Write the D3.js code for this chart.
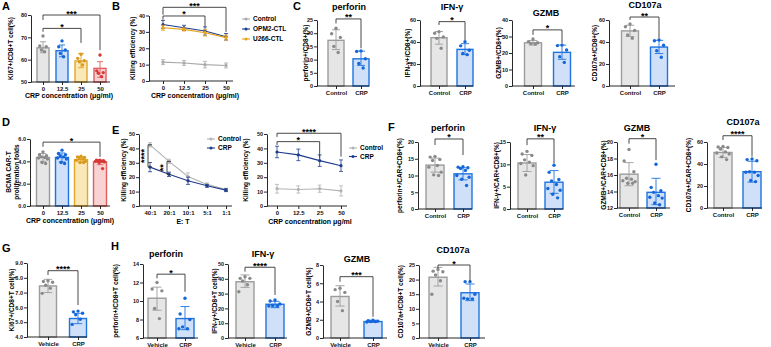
<!DOCTYPE html>
<html><head><meta charset="utf-8">
<script src="https://cdn.jsdelivr.net/npm/d3@7"></script>
<style>
body{margin:0;background:#fff}
svg{display:block;font-family:"Liberation Sans",Arial,sans-serif;font-weight:bold}
</style></head><body>
<svg id="fig" width="771" height="347"></svg>
<script>
// ---- data ----
const doseCats=["0","12.5","25","50"];
const ctlCats=["Control","CRP"];
const vehCats=["Vehicle","CRP"];

// A
const aMean=[65.3,64,59.4,56.1];
const aErr=[[63.1,68],[61.3,66.6],[56.4,62.8],[52.1,59.1]];
const aPts=[[70.6,66.1,65.8,64.3,63.6],[68.4,65.8,64.3,62.8,61.3],[62.4,60.6,59.5,59.1,57.6],[62.1,55,54.2,53.9,52.4]];
const aTicks=[50,60,70,80];
// B
const bCtrl=[11.5,11,10,9.5], bCtrlSD=[1.5,1.5,2,1.5];
const bOPM2=[34.5,32.5,30.5,27], bOPM2SD=[2.5,1.5,2.5,2];
const bU266=[32.5,31.5,29.5,26.5], bU266SD=[1.5,1,2,1.5];
const bNames=["Control","OPM2-CTL","U266-CTL"];
const bTicks=[0,10,20,30,40];
// C
const cPerfMean=[17.3,10.3], cPerfErr=[[13.8,21.3],[7.8,13.2]], cPerfPts=[[21.9,19.8,18.4,15,12.7],[13.3,13.1,10.3,8.5,6.8]];
const cIfnMean=[43.9,33.3], cIfnErr=[[38,49.5],[28.5,38.5]], cIfnPts=[[49.4,47.9,44.5,43.3,34.3],[40.3,36.5,32.5,29.5,28.5]];
const cGzmbMean=[26.2,20.4], cGzmbErr=[[24.8,27.6],[16.2,24.8]], cGzmbPts=[[28.5,26.9,26.2,25.8,25.5],[24.8,24.5,21.8,17.8,14.3]];
const cCdMean=[50.1,35.4], cCdErr=[[45,55.2],[29.5,41.5]], cCdPts=[[56.4,53.9,50.5,46.4,43.4],[41.8,41.2,37,32.1,26.1]];
// D
const dMean=[4.35,4.35,4.15,3.95];
const dErr=[[4.0,4.7],[3.95,4.75],[3.9,4.4],[3.7,4.1]];
const dPts=[[4.85,4.6,4.5,4.4,4.35,4.3,4.2,3.9,3.8],[5.0,4.7,4.6,4.5,4.4,4.3,4.2,3.9,3.8],[4.45,4.4,4.35,4.3,4.2,4.1,4.0,3.9,3.9],[4.1,4.1,4.05,4.05,4.0,4.0,3.95,3.9,3.35]];
// E
const eRatios=["40:1","20:1","10:1","5:1","1:1"];
const eCtrl=[42.5,31,20.5,15,11.5], eCtrlSD=[1.5,1.5,2.5,1,0.8];
const eCrp=[27,22,17.5,14,11], eCrpSD=[3.2,1.5,2.5,1,1];
const eCtrl2=[12,11.5,12,10.5], eCtrl2SD=[3,2.5,2.5,3.5];
const eCrp2=[37.5,35.5,31.5,28], eCrp2SD=[4,4,4,4];
// F
const fPerfMean=[13.1,10.5], fPerfErr=[[11,15.2],[8.7,12.3]], fPerfPts=[[15.7,15.5,14.8,14.5,13.0,12.5,11.0,10.2,10.0],[12.6,12.5,12.3,12.1,11.5,10.0,9.5,8.9,7.0]];
const fIfnMean=[10.3,6.0], fIfnErr=[[8.4,12.2],[3.5,8.6]], fIfnPts=[[12.9,12.3,12.0,11.0,10.5,10.2,9.7,7.6],[9.8,8.2,6.6,6.3,5.5,4.6,4.2,3.3,2.5]];
const fGzmbMean=[16.1,13.9], fGzmbErr=[[14.7,17.5],[12.4,15.6]], fGzmbPts=[[19.1,17.7,16.4,15.6,15.5,15.3,15.2,15.0,15.0],[17.3,14.5,14.1,13.9,13.5,13.3,13.2,12.6,12.4]];
const fCdMean=[50.5,33], fCdErr=[[46,55],[23.5,42.5]], fCdPts=[[56,55.5,55,53.5,51,50,49,46.5,44],[44.5,44,43,33,32.5,32.5,29.5,25,24]];
// G
const gMean=[7.45,5.25], gErr=[[7.0,7.9],[4.9,5.6]], gPts=[[7.8,7.75,7.7,7.5,7.3,6.95],[5.75,5.7,5.6,5.5,5.2,4.85]];
// H
const hPerfMean=[10.3,8.1], hPerfErr=[[9.0,11.5],[6.9,9.4]], hPerfPts=[[12.0,11.3,11.1,9.2,8.1],[10.3,8.6,8.0,7.2,7.0,7.0]];
const hIfnMean=[38,22.8], hIfnErr=[[34.2,42.6],[20.5,24.8]], hIfnPts=[[41.4,40.3,40.3,38.5,36,31.3],[25.7,25,23,22,21.6,21.6]];
const hGzmbMean=[4.55,1.8], hGzmbErr=[[3.5,5.73],[1.7,1.95]], hGzmbPts=[[5.45,5.3,5.0,4.0,3.0],[1.95,1.9,1.85,1.8,1.8,1.75]];
const hCdMean=[20.8,15.5], hCdErr=[[17.8,24.2],[12.8,18.5]], hCdPts=[[23.5,22.9,22.7,21.6,19.6,15],[19.3,19.3,15,13.4,13.4,13.6]];

// ---- styles ----
const GREY={fill:"#e6e6e6",stroke:"#9c9c9c",dot:"#8a8a8a"};
const BLUE={fill:"#cfe0f8",stroke:"#1f74e0",dot:"#1467d9"};
const GOLD={fill:"#fbe8b8",stroke:"#e2a628",dot:"#d99b1c"};
const RED={fill:"#f9d3d3",stroke:"#e35d5d",dot:"#d93838"};
const JIT=[0,-0.3,0.3,-0.15,0.15,-0.38,0.38,-0.08,0.22];

const svg=d3.select("#fig");

function txt(x,y,s,size,anchor){
  return svg.append("text").attr("x",x).attr("y",y).attr("font-size",size)
    .attr("text-anchor",anchor||"start").text(s);
}
function ylab(x,y,s,size){
  return svg.append("text").attr("transform",`translate(${x},${y}) rotate(-90)`)
    .attr("text-anchor","middle").attr("dy","0.35em").attr("font-size",size||6.5).text(s);
}
function styleAxis(a,fs){
  a.attr("font-family",null).attr("font-size",null);
  a.selectAll("text").attr("font-size",fs).attr("fill","#111");
  a.selectAll("line,path").attr("stroke","#111").attr("stroke-width",0.9);
}
function sig(g,x,y,s){
  g.append("path").attr("d",`M${x(s.a)},${y(s.l)}V${y(s.y)}H${x(s.b)}V${y(s.r)}`)
    .attr("stroke","#333").attr("stroke-width",0.9).attr("fill","none");
  g.append("text").attr("x",(x(s.a)+x(s.b))/2).attr("y",y(s.y)+1.5)
    .attr("text-anchor","middle").attr("font-size",9).text(s.t);
}
function axes(g,o,x,y){
  const ya=g.append("g").attr("transform",`translate(${o.ax},0)`)
    .call(d3.axisLeft(y).tickValues(o.ticks).tickSize(3).tickSizeOuter(0).tickPadding(1));
  const xa=g.append("g").attr("transform",`translate(0,${o.bot})`)
    .call(d3.axisBottom(x).tickSize(3).tickSizeOuter(0).tickPadding(1.5));
  xa.select(".domain").attr("d",`M${o.ax},0H${o.ax2}`);
  styleAxis(ya,5.5);styleAxis(xa,6);
}

function barPanel(o){
  const y=d3.scaleLinear().domain(o.dom).range([o.bot,o.top]);
  const x=d3.scalePoint().domain(o.cats).range([o.c0,o.c1]);
  const g=svg.append("g");
  o.cats.forEach((c,i)=>{
    const cx=x(c), col=o.cols[i], bw=o.bw, e=o.errs[i];
    g.append("rect").attr("x",cx-bw/2).attr("y",y(o.means[i])).attr("width",bw)
      .attr("height",y(o.dom[0])-y(o.means[i])).attr("fill",col.fill)
      .attr("stroke",col.stroke).attr("stroke-width",1.4);
    g.append("path").attr("d",`M${cx},${y(e[0])}V${y(e[1])}M${cx-bw*0.25},${y(e[0])}h${bw*0.5}M${cx-bw*0.25},${y(e[1])}h${bw*0.5}`)
      .attr("stroke",col.stroke).attr("stroke-width",0.9).attr("fill","none");
    g.selectAll(null).data(o.pts[i]).join("circle")
      .attr("cx",(d,j)=>cx+JIT[j]*bw*0.9).attr("cy",d=>y(d)).attr("r",1.7).attr("fill",col.dot);
  });
  axes(g,o,x,y);
  if(o.ylab) ylab(o.lx,(o.top+o.bot)/2,o.ylab,o.lsize);
  if(o.title) txt(o.tx,o.ty,o.title,9,"middle");
  (o.sig||[]).forEach(s=>sig(g,x,y,s));
  return {x,y,g};
}

function linePanel(o){
  const y=d3.scaleLinear().domain(o.dom).range([o.bot,o.top]);
  const x=d3.scalePoint().domain(o.cats).range([o.c0,o.c1]);
  const g=svg.append("g");
  axes(g,o,x,y);
  o.series.forEach(s=>{
    const rows=o.cats.map((c,i)=>({c,v:s.vals[i],sd:s.sd[i]}));
    g.append("path").datum(rows).attr("fill","none").attr("stroke",s.color).attr("stroke-width",1.1)
      .attr("d",d3.line().x(d=>x(d.c)).y(d=>y(d.v)));
    g.selectAll(null).data(rows).join("path").attr("fill","none").attr("stroke",s.color).attr("stroke-width",0.8)
      .attr("d",d=>`M${x(d.c)},${y(d.v-d.sd)}V${y(d.v+d.sd)}M${x(d.c)-2},${y(d.v-d.sd)}h4M${x(d.c)-2},${y(d.v+d.sd)}h4`);
    g.selectAll(null).data(rows).join("circle").attr("cx",d=>x(d.c)).attr("cy",d=>y(d.v)).attr("r",1.6).attr("fill",s.color);
  });
  if(o.ylab) ylab(o.lx,(o.top+o.bot)/2,o.ylab);
  (o.sig||[]).forEach(s=>sig(g,x,y,s));
  (o.legend||[]).forEach((s,i)=>{
    const ly=o.ly+i*o.lstep;
    svg.append("line").attr("x1",o.lx0).attr("x2",o.lx0+8).attr("y1",ly).attr("y2",ly).attr("stroke",s.color).attr("stroke-width",1.1);
    svg.append("circle").attr("cx",o.lx0+4).attr("cy",ly).attr("r",1.5).attr("fill",s.color);
    svg.append("text").attr("x",o.lx0+11).attr("y",ly).attr("dy","0.35em").attr("font-size",6.5).text(s.name);
  });
  return {x,y,g};
}

// ---- panel letters ----
[["A",2,10],["B",112,10],["C",293,10],["D",2,126],["E",112,134],["F",388,131],["G",2,252],["H",111,250]]
  .forEach(d=>txt(d[1],d[2],d[0],11));

const LC="#a9a9a9", DB="#1f3c8c", GD="#e8a417";
const xTitle="CRP concentration (μg/ml)";

// A
barPanel({ax:31,ax2:110,top:15,bot:82,dom:[50,80],ticks:aTicks,cats:doseCats,c0:43,c1:100,bw:12,
  means:aMean,errs:aErr,pts:aPts,cols:[GREY,BLUE,GOLD,RED],ylab:"Ki67+/CD8+T cell(%)",lx:11,
  sig:[{a:"0",b:"25",y:74,l:72.5,r:67.5,t:"*"},{a:"0",b:"50",y:80,l:77.8,r:64.3,t:"***"}]});
txt(69,98,xTitle,7,"middle");

// B
linePanel({ax:149,ax2:233,top:15.5,bot:81,dom:[0,40],ticks:bTicks,cats:doseCats,c0:163,c1:226,
  series:[{vals:bCtrl,sd:bCtrlSD,color:LC},{vals:bOPM2,sd:bOPM2SD,color:DB},{vals:bU266,sd:bU266SD,color:GD}],
  ylab:"Killing efficiency (%)",lx:133,
  sig:[{a:"0",b:"25",y:39.7,l:37.5,r:33,t:"*"},{a:"0",b:"50",y:45,l:40.5,r:30,t:"***"}],
  legend:[{color:LC,name:bNames[0]},{color:DB,name:bNames[1]},{color:GD,name:bNames[2]}],lx0:242,ly:19,lstep:10});
txt(195,98,xTitle,7,"middle");

// C
const cCols=[GREY,BLUE];
barPanel({ax:317,ax2:369,top:20,bot:86,dom:[0,25],ticks:[0,5,10,15,20,25],cats:ctlCats,c0:336,c1:361,bw:16,
  means:cPerfMean,errs:cPerfErr,pts:cPerfPts,cols:cCols,ylab:"perforin+/CD8+(%)",lx:306,title:"perforin",tx:349,ty:10,
  sig:[{a:"Control",b:"CRP",y:25.4,l:23.7,r:14.3,t:"**"}]});
barPanel({ax:420,ax2:473,top:20,bot:86,dom:[0,60],ticks:[0,20,40,60],cats:ctlCats,c0:439,c1:465,bw:16,
  means:cIfnMean,errs:cIfnErr,pts:cIfnPts,cols:cCols,ylab:"IFN-γ+/CD8+(%)",lx:408,title:"IFN-γ",tx:452,ty:10,
  sig:[{a:"Control",b:"CRP",y:58.5,l:55.5,r:41.8,t:"*"}]});
barPanel({ax:512,ax2:575,top:20,bot:86,dom:[0,40],ticks:[0,10,20,30,40],cats:ctlCats,c0:533,c1:562,bw:17,
  means:cGzmbMean,errs:cGzmbErr,pts:cGzmbPts,cols:cCols,ylab:"GZMB+/CD8+(%)",lx:499,title:"GZMB",tx:546,ty:16,
  sig:[{a:"Control",b:"CRP",y:34,l:31,r:25.8,t:"*"}]});
barPanel({ax:609,ax2:675,top:20,bot:86,dom:[0,60],ticks:[0,20,40,60],cats:ctlCats,c0:630,c1:659,bw:17,
  means:cCdMean,errs:cCdErr,pts:cCdPts,cols:cCols,ylab:"CD107a+/CD8+(%)",lx:595,title:"CD107a",tx:645,ty:8,
  sig:[{a:"Control",b:"CRP",y:62.7,l:60,r:43.3,t:"**"}]});

// D
barPanel({ax:30,ax2:110,top:139,bot:206,dom:[0,6],ticks:[0,2,4,6],cats:doseCats,c0:43,c1:100,bw:13,
  means:dMean,errs:dErr,pts:dPts,cols:[GREY,BLUE,GOLD,RED],
  sig:[{a:"0",b:"50",y:5.72,l:5.3,r:4.4,t:"*"}]});
ylab(9,172,"BCMA CAR-T",6.5);ylab(17,172,"proliferation folds",6.5);
txt(70,223,xTitle,7,"middle");

// E left
const eL=linePanel({ax:139,ax2:232,top:134,bot:206,dom:[0,50],ticks:[0,10,20,30,40,50],cats:eRatios,c0:150,c1:226,
  series:[{vals:eCtrl,sd:eCtrlSD,color:"#b3b3b3"},{vals:eCrp,sd:eCrpSD,color:DB}],
  ylab:"Killing efficiency (%)",lx:124,
  legend:[{color:"#b3b3b3",name:"Control"},{color:DB,name:"CRP"}],lx0:207,ly:139,lstep:9});
[[0,"****"],[1,"**"]].forEach(([i,t])=>{
  const bx=eL.x(eRatios[i])-2;
  eL.g.append("path").attr("d",`M${bx+4},${eL.y(eCtrl[i])}H${bx}V${eL.y(eCrp[i])}H${bx+4}`)
    .attr("stroke","#333").attr("stroke-width",0.9).attr("fill","none");
  const my=(eL.y(eCtrl[i])+eL.y(eCrp[i]))/2;
  eL.g.append("text").attr("transform",`translate(${bx-1},${my}) rotate(-90)`).attr("text-anchor","middle")
    .attr("font-size",9).text(t);
});
txt(183,224,"E:  T",7,"middle");

// E right
linePanel({ax:267,ax2:347,top:134,bot:206,dom:[0,50],ticks:[0,10,20,30,40,50],cats:doseCats,c0:277,c1:341,
  series:[{vals:eCtrl2,sd:eCtrl2SD,color:"#b3b3b3"},{vals:eCrp2,sd:eCrp2SD,color:DB}],
  ylab:"Killing efficiency (%)",lx:246,
  sig:[{a:"0",b:"25",y:44.7,l:42.4,r:33.2,t:"*"},{a:"0",b:"50",y:50.5,l:48,r:34.3,t:"****"}],
  legend:[{color:"#b3b3b3",name:"Control"},{color:DB,name:"CRP"}],lx0:349,ly:148,lstep:8.5});
txt(310,224,"CRP concentration μg/ml",7,"middle");

// F
barPanel({ax:418,ax2:472,top:142,bot:209,dom:[0,20],ticks:[0,5,10,15,20],cats:ctlCats,c0:435,c1:463,bw:18,
  means:fPerfMean,errs:fPerfErr,pts:fPerfPts,cols:cCols,ylab:"perforin+/CAR+CD8+(%)",lx:400,title:"perforin",tx:448,ty:131,
  sig:[{a:"Control",b:"CRP",y:20.9,l:19.1,r:16.1,t:"*"}]});
barPanel({ax:510,ax2:563,top:142,bot:209,dom:[0,15],ticks:[0,5,10,15],cats:ctlCats,c0:527,c1:554,bw:18,
  means:fIfnMean,errs:fIfnErr,pts:fIfnPts,cols:cCols,ylab:"IFN-γ+/CAR+CD8+(%)",lx:497,title:"IFN-γ",tx:545,ty:131,
  sig:[{a:"Control",b:"CRP",y:15.7,l:14.3,r:10.2,t:"**"}]});
barPanel({ax:617,ax2:670,top:142,bot:208,dom:[12,20],ticks:[12,14,16,18,20],cats:ctlCats,c0:629,c1:656,bw:18,
  means:fGzmbMean,errs:fGzmbErr,pts:fGzmbPts,cols:cCols,ylab:"GZMB+/CAR+CD8+(%)",lx:604,title:"GZMB",tx:637,ty:131,
  sig:[{a:"Control",b:"CRP",y:20.4,l:19.8,r:17.8,t:"*"}]});
barPanel({ax:707,ax2:762,top:142,bot:208,dom:[0,60],ticks:[0,20,40,60],cats:ctlCats,c0:723,c1:752,bw:18,
  means:fCdMean,errs:fCdErr,pts:fCdPts,cols:cCols,ylab:"CD107a+/CAR+CD8+(%)",lx:689,title:"CD107a",tx:743,ty:125,
  sig:[{a:"Control",b:"CRP",y:65.7,l:61.8,r:46.7,t:"****"}]});

// G
barPanel({ax:27,ax2:87,top:263,bot:337,dom:[4,9],ticks:[4,5,6,7,8,9],cats:vehCats,c0:48,c1:78,bw:17,
  means:gMean,errs:gErr,pts:gPts,cols:cCols,ylab:"Ki67+/CD8+T cell(%)",lx:12,
  sig:[{a:"Vehicle",b:"CRP",y:8.48,l:8.19,r:6.16,t:"****"}]});

// H
barPanel({ax:143,ax2:198,top:264,bot:338,dom:[6,14],ticks:[6,8,10,12,14],cats:vehCats,c0:157,c1:185,bw:18,
  means:hPerfMean,errs:hPerfErr,pts:hPerfPts,cols:cCols,ylab:"perforin+/CD8+T cell(%)",lx:116,title:"perforin",tx:166,ty:257,
  sig:[{a:"Vehicle",b:"CRP",y:12.9,l:12.45,r:11,t:"*"}]});
barPanel({ax:228,ax2:287,top:264,bot:338,dom:[0,50],ticks:[0,10,20,30,40,50],cats:vehCats,c0:245,c1:275,bw:18,
  means:hIfnMean,errs:hIfnErr,pts:hIfnPts,cols:cCols,ylab:"IFN-γ+/CD8+T cell(%)",lx:215,title:"IFN-γ",tx:263,ty:257,
  sig:[{a:"Vehicle",b:"CRP",y:47.8,l:44.8,r:29.1,t:"****"}]});
barPanel({ax:323,ax2:387,top:265,bot:338,dom:[0,8],ticks:[0,2,4,6,8],cats:vehCats,c0:340,c1:373,bw:18,
  means:hGzmbMean,errs:hGzmbErr,pts:hGzmbPts,cols:cCols,ylab:"GZMB+/CD8+T cell(%)",lx:309,title:"GZMB",tx:357,ty:262,
  sig:[{a:"Vehicle",b:"CRP",y:6.72,l:6.17,r:2.33,t:"***"}]});
barPanel({ax:419,ax2:485,top:265,bot:338,dom:[0,25],ticks:[0,5,10,15,20,25],cats:vehCats,c0:438,c1:470,bw:18,
  means:hCdMean,errs:hCdErr,pts:hCdPts,cols:cCols,ylab:"CD107a+/CD8+T cell(%)",lx:401,title:"CD107a",tx:453,ty:253,
  sig:[{a:"Vehicle",b:"CRP",y:25,l:23.9,r:19.3,t:"*"}]});
</script>
</body></html>
